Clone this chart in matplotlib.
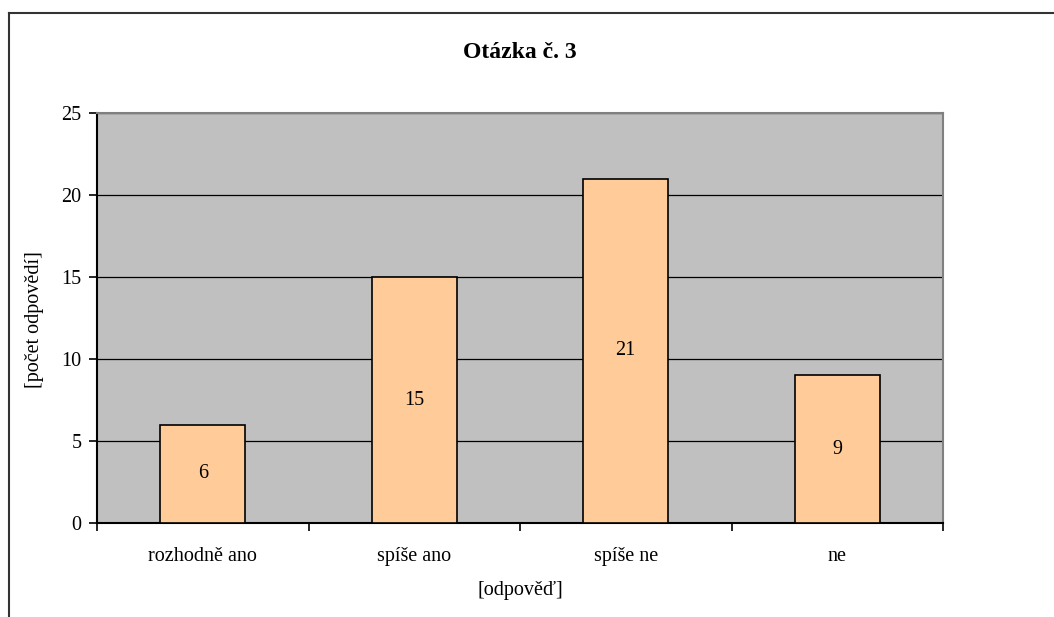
import matplotlib.pyplot as plt
from matplotlib.lines import Line2D

categories = ["rozhodně ano", "spíše ano", "spíše ne", "ne"]
counts = [6, 15, 21, 9]
y_ticks = [0, 5, 10, 15, 20, 25]

plt.rcParams['font.family'] = ['Liberation Serif', 'DejaVu Serif']

W, H = 1054, 617
fig = plt.figure(figsize=(W / 100, H / 100), dpi=100)
ax = fig.add_axes([97 / W, 1 - 523 / H, (943 - 97) / W, (523 - 113) / H])

# outer chart frame (only left and top are visible in the crop)
fig.add_artist(Line2D([9 / W, 9 / W], [0, 1 - 13 / H], transform=fig.transFigure,
                      color='#333333', lw=1.5))
fig.add_artist(Line2D([9 / W, 1], [1 - 13 / H, 1 - 13 / H], transform=fig.transFigure,
                      color='#333333', lw=1.5))

ax.set_facecolor('#C0C0C0')
x = range(len(categories))
bars = ax.bar(x, counts, width=0.4, color='#FFCC99', edgecolor='black', linewidth=1.2, zorder=3)

for b, v in zip(bars, counts):
    ax.text(b.get_x() + b.get_width() / 2, v / 2, str(v), ha='center', va='center',
            fontsize=14.5, zorder=4)

ax.set_xlim(-0.5, len(categories) - 0.5)
ax.set_ylim(0, 25)
ax.set_yticks(y_ticks)
ax.yaxis.grid(True, color='black', lw=0.9, zorder=1)
ax.set_axisbelow(True)

ax.set_xticks(x)
ax.set_xticklabels(categories, fontsize=14.5)
ax.tick_params(axis='x', length=0, pad=17)
ax.set_xticks([i - 0.5 for i in range(len(categories) + 1)], minor=True)
ax.tick_params(axis='x', which='minor', length=6, width=1.2, color='black', direction='out')
ax.tick_params(axis='y', length=6, width=1.2, labelsize=14.5, direction='out', pad=5)

for side in ['top', 'right']:
    ax.spines[side].set_color('#808080')
    ax.spines[side].set_linewidth(1.5)
for side in ['left', 'bottom']:
    ax.spines[side].set_color('black')
    ax.spines[side].set_linewidth(1.5)

ax.set_xlabel("[odpověď]", fontsize=14.5, va='center')
ax.xaxis.set_label_coords(0.5, -(590 - 523) / (523 - 113))
ax.set_ylabel("[počet odpovědí]", fontsize=14.5, va='center')
ax.yaxis.set_label_coords(-(97 - 35) / (943 - 97), (523 - 320) / (523 - 113))
fig.text((97 + 943) / 2 / W, 1 - 52 / H, "Otázka č. 3", ha='center', va='center',
         fontsize=17, fontweight='bold')

fig.savefig("out.png", dpi=100)
